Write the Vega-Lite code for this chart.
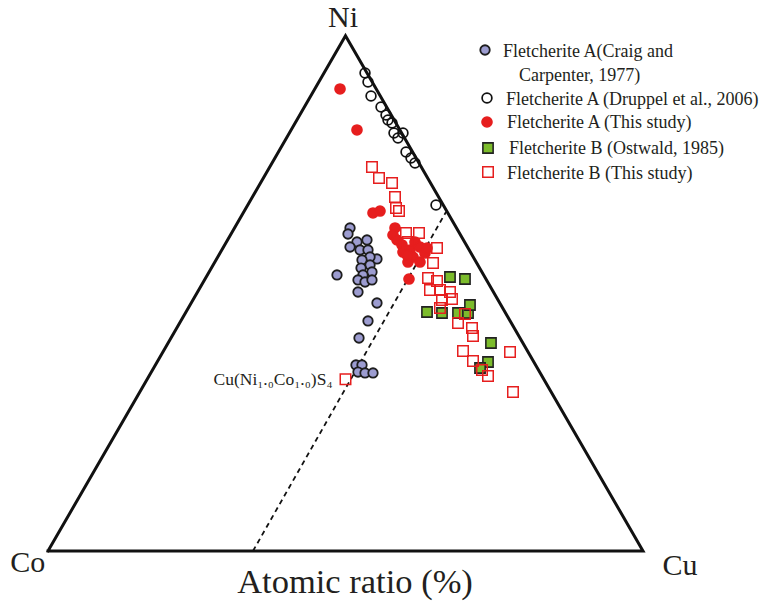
{
  "$schema": "https://vega.github.io/schema/vega-lite/v6.json",
  "width": 766,
  "height": 603,
  "padding": 0,
  "autosize": {"type": "none"},
  "background": "white",
  "config": {"view": {"stroke": null}},
  "datasets": {
    "frame": [
      {"x": 0, "y": 0, "ord": 1},
      {"x": 50, "y": 86.6, "ord": 2},
      {"x": 100, "y": 0, "ord": 3},
      {"x": 0, "y": 0, "ord": 4}
    ],
    "tie": [
      {"x": 34.45, "y": 0, "ord": 1},
      {"x": 66.9, "y": 57.0, "ord": 2}
    ],
    "points": [
      {"series": "Fletcherite A (Craig and Carpenter, 1977)", "x": 50.76, "y": 54.29},
      {"series": "Fletcherite A (Craig and Carpenter, 1977)", "x": 50.42, "y": 53.28},
      {"series": "Fletcherite A (Craig and Carpenter, 1977)", "x": 51.93, "y": 51.93},
      {"series": "Fletcherite A (Craig and Carpenter, 1977)", "x": 53.61, "y": 52.27},
      {"series": "Fletcherite A (Craig and Carpenter, 1977)", "x": 50.76, "y": 51.09},
      {"series": "Fletcherite A (Craig and Carpenter, 1977)", "x": 52.44, "y": 50.59},
      {"series": "Fletcherite A (Craig and Carpenter, 1977)", "x": 53.78, "y": 50.59},
      {"series": "Fletcherite A (Craig and Carpenter, 1977)", "x": 55.29, "y": 49.08},
      {"series": "Fletcherite A (Craig and Carpenter, 1977)", "x": 54.12, "y": 49.41},
      {"series": "Fletcherite A (Craig and Carpenter, 1977)", "x": 52.77, "y": 48.91},
      {"series": "Fletcherite A (Craig and Carpenter, 1977)", "x": 54.12, "y": 48.07},
      {"series": "Fletcherite A (Craig and Carpenter, 1977)", "x": 52.61, "y": 47.56},
      {"series": "Fletcherite A (Craig and Carpenter, 1977)", "x": 54.45, "y": 46.89},
      {"series": "Fletcherite A (Craig and Carpenter, 1977)", "x": 52.94, "y": 46.39},
      {"series": "Fletcherite A (Craig and Carpenter, 1977)", "x": 52.10, "y": 45.55},
      {"series": "Fletcherite A (Craig and Carpenter, 1977)", "x": 53.28, "y": 45.21},
      {"series": "Fletcherite A (Craig and Carpenter, 1977)", "x": 54.45, "y": 45.55},
      {"series": "Fletcherite A (Craig and Carpenter, 1977)", "x": 48.57, "y": 46.39},
      {"series": "Fletcherite A (Craig and Carpenter, 1977)", "x": 52.10, "y": 43.53},
      {"series": "Fletcherite A (Craig and Carpenter, 1977)", "x": 55.29, "y": 41.68},
      {"series": "Fletcherite A (Craig and Carpenter, 1977)", "x": 53.78, "y": 38.66},
      {"series": "Fletcherite A (Craig and Carpenter, 1977)", "x": 52.27, "y": 35.80},
      {"series": "Fletcherite A (Craig and Carpenter, 1977)", "x": 51.76, "y": 31.26},
      {"series": "Fletcherite A (Craig and Carpenter, 1977)", "x": 52.77, "y": 31.26},
      {"series": "Fletcherite A (Craig and Carpenter, 1977)", "x": 52.10, "y": 30.08},
      {"series": "Fletcherite A (Craig and Carpenter, 1977)", "x": 53.28, "y": 29.92},
      {"series": "Fletcherite A (Craig and Carpenter, 1977)", "x": 54.62, "y": 29.92},
      {"series": "Fletcherite A (Druppel et al., 2006)", "x": 53.28, "y": 80.34},
      {"series": "Fletcherite A (Druppel et al., 2006)", "x": 53.78, "y": 78.82},
      {"series": "Fletcherite A (Druppel et al., 2006)", "x": 54.29, "y": 76.47},
      {"series": "Fletcherite A (Druppel et al., 2006)", "x": 55.97, "y": 74.62},
      {"series": "Fletcherite A (Druppel et al., 2006)", "x": 56.81, "y": 73.28},
      {"series": "Fletcherite A (Druppel et al., 2006)", "x": 57.14, "y": 72.44},
      {"series": "Fletcherite A (Druppel et al., 2006)", "x": 57.82, "y": 71.93},
      {"series": "Fletcherite A (Druppel et al., 2006)", "x": 58.15, "y": 70.25},
      {"series": "Fletcherite A (Druppel et al., 2006)", "x": 59.66, "y": 70.25},
      {"series": "Fletcherite A (Druppel et al., 2006)", "x": 58.82, "y": 69.41},
      {"series": "Fletcherite A (Druppel et al., 2006)", "x": 60.17, "y": 67.06},
      {"series": "Fletcherite A (Druppel et al., 2006)", "x": 61.01, "y": 66.05},
      {"series": "Fletcherite A (Druppel et al., 2006)", "x": 61.68, "y": 65.21},
      {"series": "Fletcherite A (Druppel et al., 2006)", "x": 65.21, "y": 58.15},
      {"series": "Fletcherite A (This study)", "x": 49.08, "y": 77.65},
      {"series": "Fletcherite A (This study)", "x": 51.93, "y": 70.76},
      {"series": "Fletcherite A (This study)", "x": 54.62, "y": 56.81},
      {"series": "Fletcherite A (This study)", "x": 55.80, "y": 57.14},
      {"series": "Fletcherite A (This study)", "x": 58.32, "y": 54.29},
      {"series": "Fletcherite A (This study)", "x": 57.98, "y": 53.11},
      {"series": "Fletcherite A (This study)", "x": 58.66, "y": 52.27},
      {"series": "Fletcherite A (This study)", "x": 59.50, "y": 51.43},
      {"series": "Fletcherite A (This study)", "x": 59.66, "y": 50.25},
      {"series": "Fletcherite A (This study)", "x": 60.84, "y": 50.59},
      {"series": "Fletcherite A (This study)", "x": 61.68, "y": 51.93},
      {"series": "Fletcherite A (This study)", "x": 62.52, "y": 51.09},
      {"series": "Fletcherite A (This study)", "x": 61.34, "y": 49.41},
      {"series": "Fletcherite A (This study)", "x": 62.52, "y": 48.57},
      {"series": "Fletcherite A (This study)", "x": 60.50, "y": 48.57},
      {"series": "Fletcherite A (This study)", "x": 63.36, "y": 50.08},
      {"series": "Fletcherite A (This study)", "x": 63.70, "y": 50.92},
      {"series": "Fletcherite A (This study)", "x": 60.67, "y": 45.71},
      {"series": "Fletcherite A (This study)", "x": 60.34, "y": 49.75},
      {"series": "Fletcherite B (Ostwald, 1985)", "x": 67.56, "y": 46.05},
      {"series": "Fletcherite B (Ostwald, 1985)", "x": 70.08, "y": 45.71},
      {"series": "Fletcherite B (Ostwald, 1985)", "x": 63.70, "y": 40.17},
      {"series": "Fletcherite B (Ostwald, 1985)", "x": 66.22, "y": 40.00},
      {"series": "Fletcherite B (Ostwald, 1985)", "x": 68.91, "y": 40.00},
      {"series": "Fletcherite B (Ostwald, 1985)", "x": 70.59, "y": 40.00},
      {"series": "Fletcherite B (Ostwald, 1985)", "x": 70.92, "y": 41.34},
      {"series": "Fletcherite B (Ostwald, 1985)", "x": 74.45, "y": 34.96},
      {"series": "Fletcherite B (Ostwald, 1985)", "x": 73.95, "y": 31.76},
      {"series": "Fletcherite B (Ostwald, 1985)", "x": 72.61, "y": 30.76},
      {"series": "Fletcherite B (This study)", "x": 54.45, "y": 64.54},
      {"series": "Fletcherite B (This study)", "x": 55.63, "y": 62.69},
      {"series": "Fletcherite B (This study)", "x": 57.82, "y": 61.85},
      {"series": "Fletcherite B (This study)", "x": 58.32, "y": 59.50},
      {"series": "Fletcherite B (This study)", "x": 58.49, "y": 57.65},
      {"series": "Fletcherite B (This study)", "x": 58.99, "y": 57.14},
      {"series": "Fletcherite B (This study)", "x": 60.17, "y": 53.45},
      {"series": "Fletcherite B (This study)", "x": 62.35, "y": 53.45},
      {"series": "Fletcherite B (This study)", "x": 60.50, "y": 51.93},
      {"series": "Fletcherite B (This study)", "x": 65.38, "y": 50.92},
      {"series": "Fletcherite B (This study)", "x": 64.71, "y": 48.40},
      {"series": "Fletcherite B (This study)", "x": 63.87, "y": 45.88},
      {"series": "Fletcherite B (This study)", "x": 65.38, "y": 45.38},
      {"series": "Fletcherite B (This study)", "x": 64.20, "y": 43.87},
      {"series": "Fletcherite B (This study)", "x": 65.88, "y": 43.87},
      {"series": "Fletcherite B (This study)", "x": 67.56, "y": 43.53},
      {"series": "Fletcherite B (This study)", "x": 67.90, "y": 42.35},
      {"series": "Fletcherite B (This study)", "x": 66.22, "y": 42.18},
      {"series": "Fletcherite B (This study)", "x": 65.88, "y": 40.84},
      {"series": "Fletcherite B (This study)", "x": 70.08, "y": 39.83},
      {"series": "Fletcherite B (This study)", "x": 68.91, "y": 38.32},
      {"series": "Fletcherite B (This study)", "x": 71.26, "y": 37.48},
      {"series": "Fletcherite B (This study)", "x": 71.43, "y": 36.13},
      {"series": "Fletcherite B (This study)", "x": 69.75, "y": 33.61},
      {"series": "Fletcherite B (This study)", "x": 71.43, "y": 31.93},
      {"series": "Fletcherite B (This study)", "x": 72.94, "y": 30.42},
      {"series": "Fletcherite B (This study)", "x": 73.95, "y": 29.41},
      {"series": "Fletcherite B (This study)", "x": 77.65, "y": 33.45},
      {"series": "Fletcherite B (This study)", "x": 78.15, "y": 26.72},
      {"series": "Fletcherite B (This study)", "x": 50.0, "y": 28.87}
    ],
    "legendSymbols": [
      {"series": "Fletcherite A (Craig and Carpenter, 1977)", "x": 73.45, "y": 84.2},
      {"series": "Fletcherite A (Druppel et al., 2006)", "x": 73.78, "y": 76.13},
      {"series": "Fletcherite A (This study)", "x": 73.78, "y": 72.1},
      {"series": "Fletcherite B (Ostwald, 1985)", "x": 73.95, "y": 67.73},
      {"series": "Fletcherite B (This study)", "x": 73.95, "y": 63.7}
    ],
    "legendLabels": [
      {"text": "Fletcherite A(Craig and", "x": 76.47, "y": 83.87},
      {"text": "Carpenter, 1977)", "x": 79.16, "y": 79.83},
      {"text": "Fletcherite A (Druppel et al., 2006)", "x": 76.97, "y": 75.8},
      {"text": "Fletcherite A (This study)", "x": 77.14, "y": 71.93},
      {"text": "Fletcherite B (Ostwald, 1985)", "x": 77.48, "y": 67.56},
      {"text": "Fletcherite B (This study)", "x": 77.14, "y": 63.36}
    ],
    "vertices": [
      {"text": "Ni", "x": 49.6, "y": 89.6},
      {"text": "Co", "x": -3.4, "y": -2.0},
      {"text": "Cu", "x": 106.2, "y": -2.5}
    ],
    "titleText": [
      {"text": "Atomic ratio (%)", "x": 51.6, "y": -5.4}
    ],
    "formula": [
      {"text": "Cu(Ni₁.₀Co₁.₀)S₄", "x": 50.0, "y": 28.87}
    ]
  },
  "layer": [
    {
      "data": {"name": "frame"},
      "mark": {"type": "line", "color": "#111111", "strokeWidth": 3, "strokeJoin": "miter", "strokeCap": "square"},
      "encoding": {
        "x": {"field": "x", "type": "quantitative", "scale": {"domain": [-8.067, 120.672], "nice": false, "zero": false}, "axis": null},
        "y": {"field": "y", "type": "quantitative", "scale": {"domain": [-8.739, 92.605], "nice": false, "zero": false}, "axis": null},
        "order": {"field": "ord", "type": "quantitative"}
      }
    },
    {
      "data": {"name": "tie"},
      "mark": {"type": "line", "color": "#111111", "strokeWidth": 1.8, "strokeDash": [5, 4]},
      "encoding": {
        "x": {"field": "x", "type": "quantitative"},
        "y": {"field": "y", "type": "quantitative"},
        "order": {"field": "ord", "type": "quantitative"}
      }
    },
    {
      "data": {"name": "points"},
      "mark": {"type": "point", "opacity": 1, "fillOpacity": 1, "strokeOpacity": 1},
      "encoding": {
        "x": {"field": "x", "type": "quantitative"},
        "y": {"field": "y", "type": "quantitative"},
        "shape": {"field": "series", "type": "nominal", "legend": null,
          "scale": {"domain": ["Fletcherite A (Craig and Carpenter, 1977)", "Fletcherite A (Druppel et al., 2006)", "Fletcherite A (This study)", "Fletcherite B (Ostwald, 1985)", "Fletcherite B (This study)"],
                    "range": ["circle", "circle", "circle", "square", "square"]}},
        "fill": {"field": "series", "type": "nominal", "legend": null,
          "scale": {"domain": ["Fletcherite A (Craig and Carpenter, 1977)", "Fletcherite A (Druppel et al., 2006)", "Fletcherite A (This study)", "Fletcherite B (Ostwald, 1985)", "Fletcherite B (This study)"],
                    "range": ["#9c9cd0", "transparent", "#e61e1e", "#7cbc2c", "transparent"]}},
        "stroke": {"field": "series", "type": "nominal", "legend": null,
          "scale": {"domain": ["Fletcherite A (Craig and Carpenter, 1977)", "Fletcherite A (Druppel et al., 2006)", "Fletcherite A (This study)", "Fletcherite B (Ostwald, 1985)", "Fletcherite B (This study)"],
                    "range": ["#1e1e1e", "#111111", "#e61e1e", "#222222", "#e61e1e"]}},
        "size": {"field": "series", "type": "nominal", "legend": null,
          "scale": {"domain": ["Fletcherite A (Craig and Carpenter, 1977)", "Fletcherite A (Druppel et al., 2006)", "Fletcherite A (This study)", "Fletcherite B (Ostwald, 1985)", "Fletcherite B (This study)"],
                    "range": [90, 110, 120, 125, 130]}},
        "strokeWidth": {"field": "series", "type": "nominal", "legend": null,
          "scale": {"domain": ["Fletcherite A (Craig and Carpenter, 1977)", "Fletcherite A (Druppel et al., 2006)", "Fletcherite A (This study)", "Fletcherite B (Ostwald, 1985)", "Fletcherite B (This study)"],
                    "range": [1.8, 1.5, 0.5, 2.4, 2]}}
      }
    },
    {
      "data": {"name": "legendSymbols"},
      "mark": {"type": "point", "opacity": 1, "fillOpacity": 1, "strokeOpacity": 1},
      "encoding": {
        "x": {"field": "x", "type": "quantitative"},
        "y": {"field": "y", "type": "quantitative"},
        "shape": {"field": "series", "type": "nominal", "legend": null},
        "fill": {"field": "series", "type": "nominal", "legend": null},
        "stroke": {"field": "series", "type": "nominal", "legend": null},
        "size": {"field": "series", "type": "nominal", "legend": null},
        "strokeWidth": {"field": "series", "type": "nominal", "legend": null}
      }
    },
    {
      "data": {"name": "legendLabels"},
      "mark": {"type": "text", "align": "left", "baseline": "middle", "font": "Liberation Serif", "fontSize": 18, "color": "#231f20"},
      "encoding": {
        "x": {"field": "x", "type": "quantitative"},
        "y": {"field": "y", "type": "quantitative"},
        "text": {"field": "text"}
      }
    },
    {
      "data": {"name": "vertices"},
      "mark": {"type": "text", "align": "center", "baseline": "middle", "font": "Liberation Serif", "fontSize": 30, "color": "#231f20"},
      "encoding": {
        "x": {"field": "x", "type": "quantitative"},
        "y": {"field": "y", "type": "quantitative"},
        "text": {"field": "text"}
      }
    },
    {
      "data": {"name": "titleText"},
      "mark": {"type": "text", "align": "center", "baseline": "middle", "font": "Liberation Serif", "fontSize": 34.5, "color": "#231f20"},
      "encoding": {
        "x": {"field": "x", "type": "quantitative"},
        "y": {"field": "y", "type": "quantitative"},
        "text": {"field": "text"}
      }
    },
    {
      "data": {"name": "formula"},
      "mark": {"type": "text", "align": "right", "baseline": "middle", "dx": -13, "dy": 1, "font": "Liberation Serif", "fontSize": 17.5, "color": "#231f20"},
      "encoding": {
        "x": {"field": "x", "type": "quantitative"},
        "y": {"field": "y", "type": "quantitative"},
        "text": {"field": "text"}
      }
    }
  ]
}
